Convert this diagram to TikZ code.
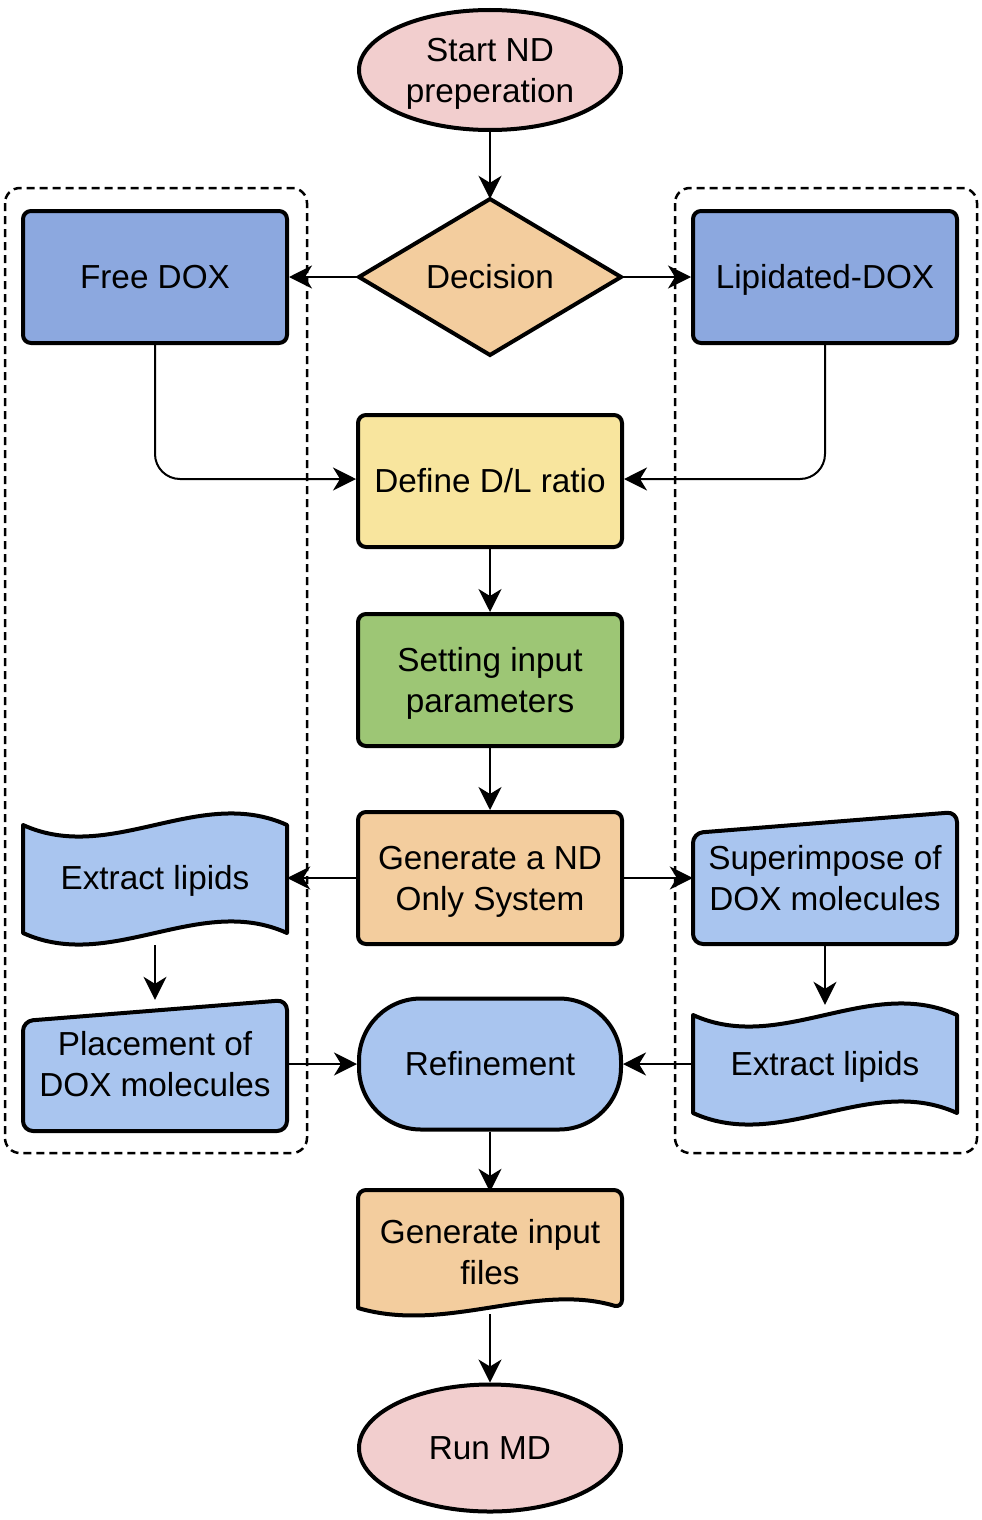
\documentclass[tikz,border=0pt]{standalone}
\usepackage{fontspec}
\setmainfont{Liberation Sans}
\usetikzlibrary{arrows.meta,shapes.geometric}
\definecolor{cpink}{HTML}{F2CECE}
\definecolor{corange}{HTML}{F3CD9E}
\definecolor{cblue}{HTML}{8CA8DF}
\definecolor{cyellow}{HTML}{F8E59E}
\definecolor{cgreen}{HTML}{9DC675}
\definecolor{clblue}{HTML}{A9C5EF}
\newcommand{\mystrut}{\rule[-7pt]{0pt}{37.6pt}}
\tikzset{
  shp/.style={draw=black, line width=4pt, line join=round},
  txt/.style={font=\fontsize{33.3}{41}\selectfont, align=center, inner sep=0pt, text=black,
    execute at begin node=\mystrut, execute at end node=\mystrut},
  procbox/.style={txt, shp, rounded corners=8pt, minimum width=264pt, minimum height=132pt},
  termell/.style={txt, shp, ellipse, minimum width=262pt, inner sep=0pt},
  anchorbox/.style={txt, minimum width=264pt},
  conn/.style={draw=black, line width=2pt, -{Stealth[length=23pt,width=23pt,inset=7pt]}},
  grp/.style={draw=black, line width=2.5pt, dash pattern=on 8pt off 5pt, rounded corners=15pt}
}
\begin{document}
\begin{tikzpicture}[x=1pt,y=-1pt]
\useasboundingbox (0,0) rectangle (982,1520);
% groups
\draw[grp] (5,188) rectangle (307,1153);
\draw[grp] (675,188) rectangle (977,1153);
% custom shape outlines
\draw[shp, fill=corange, line join=miter] (490,199) -- (621,277) -- (490,355) -- (359,277) -- cycle;
\draw[shp, fill=clblue] (23,825) .. controls (111,865) and (199,785) .. (287,825) -- (287,933) .. controls (199,893) and (111,973) .. (23,933) -- cycle;
\draw[shp, fill=clblue] (693,1015) .. controls (781,1055) and (869,975) .. (957,1015) -- (957,1113) .. controls (869,1073) and (781,1153) .. (693,1113) -- cycle;
\draw[shp, fill=clblue, rounded corners=10pt] (23,1021) -- (287,1000) -- (287,1131) -- (23,1131) -- cycle;
\draw[shp, fill=clblue, rounded corners=10pt] (693,833) -- (957,812) -- (957,944) -- (693,944) -- cycle;
\draw[shp, fill=corange] (358,1308) [rounded corners=8pt] -- (358,1190) -- (622,1190) -- (622,1308) [sharp corners] .. controls (534,1282) and (446,1334) .. (358,1308) -- cycle;
% nodes
\node[termell, fill=cpink, minimum height=120pt] (start) at (490,70) {\mystrut Start ND\\preperation};
\node[anchorbox, minimum width=262pt, minimum height=156pt] (dec) at (490,277) {Decision};
\node[procbox, fill=cblue] (free) at (155,277) {Free DOX};
\node[procbox, fill=cblue] (lip) at (825,277) {Lipidated-DOX};
\node[procbox, fill=cyellow] (def) at (490,481) {Define D/L ratio};
\node[procbox, fill=cgreen] (set) at (490,680) {\mystrut Setting input\\parameters};
\node[procbox, fill=corange] (gen) at (490,878) {\mystrut Generate a ND\\Only System};
\node[anchorbox, minimum height=134pt] (extL) at (155,878) {Extract lipids};
\node[anchorbox, minimum height=128pt] (place) at (155,1064) {\mystrut Placement of\\DOX molecules};
\node[anchorbox, minimum height=132pt] (sup) at (825,878) {\mystrut Superimpose of\\DOX molecules};
\node[anchorbox, minimum height=118pt] (extR) at (825,1064) {Extract lipids};
\node[txt, shp, fill=clblue, rounded corners=62pt, minimum width=262pt, minimum height=131pt] (ref) at (490,1064) {Refinement};
\node[anchorbox, minimum height=120pt] (geninp) at (490,1252) {\mystrut Generate input\\files};
\node[termell, fill=cpink, minimum height=127pt] (run) at (490,1448) {Run MD};
% connectors
\draw[conn] (start.south) -- (dec.north);
\draw[conn] (dec.west) -- (free.east);
\draw[conn] (dec.east) -- (lip.west);
\draw[conn, rounded corners=25pt] (free.south) |- ([yshift=2pt]def.west);
\draw[conn, rounded corners=25pt] (lip.south) |- ([yshift=2pt]def.east);
\draw[conn] (def.south) -- (set.north);
\draw[conn] (set.south) -- (gen.north);
\draw[conn] (gen.west) -- (extL.east);
\draw[conn] (gen.east) -- (sup.west);
\draw[conn] (extL.south) -- (place.north);
\draw[conn] (sup.south) -- (extR.north);
\draw[conn] (place.east) -- (ref.west);
\draw[conn] (extR.west) -- (ref.east);
\draw[conn] (ref.south) -- (geninp.north);
\draw[conn] ([yshift=-2pt]geninp.south) -- (run.north);
\end{tikzpicture}
\end{document}
